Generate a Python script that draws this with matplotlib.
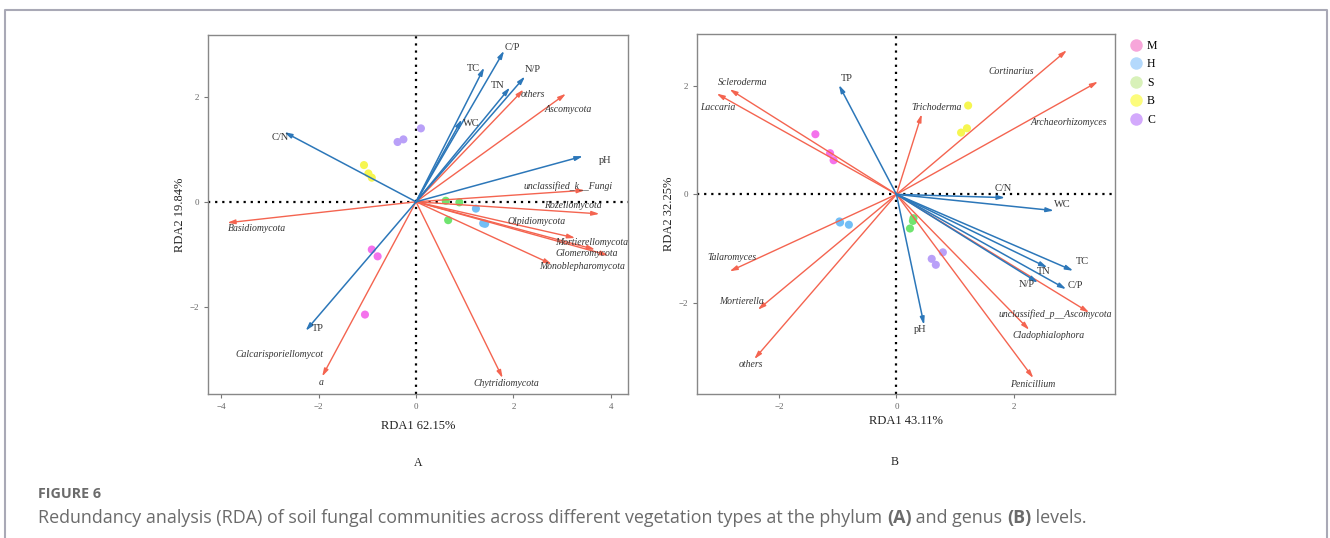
import numpy as np
import matplotlib.pyplot as plt
from matplotlib.lines import Line2D

plt.rcParams['font.family'] = ['Liberation Serif', 'DejaVu Serif']

# ---- panel A (phylum) ----
env_a = ['C/P', 'TC', 'N/P', 'TN', 'WC', 'C/N', 'pH', 'TP']
env_a_x = [1.81, 1.40, 2.24, 1.93, 0.94, -2.71, 3.43, -2.27]
env_a_y = [2.88, 2.56, 2.39, 2.18, 1.57, 1.33, 0.87, -2.46]
env_a_lx = [1.97, 1.17, 2.40, 1.68, 1.14, -2.80, 3.88, -2.01]
env_a_ly = [2.94, 2.55, 2.52, 2.21, 1.50, 1.22, 0.78, -2.41]

sp_a = ['others', 'Ascomycota', 'unclassified_k__Fungi', 'Rozellomycota', 'Olpidiomycota',
        'Mortierellomycota', 'Glomeromycota', 'Monoblepharomycota', 'Basidiomycota',
        'Calcarisporiellomycot', 'Chytridiomycota']
sp_a_x = [2.21, 3.08, 3.47, 3.77, 3.27, 3.68, 3.95, 2.79, -3.88, -1.93, 1.78]
sp_a_y = [2.14, 2.06, 0.22, -0.23, -0.69, -0.91, -1.02, -1.19, -0.40, -3.33, -3.36]
sp_a_lx = [2.41, 3.13, 3.13, 3.23, 2.48, 3.61, 3.51, 3.41, -3.27, -2.80, 1.86]
sp_a_ly = [2.05, 1.76, 0.30, -0.08, -0.37, -0.77, -0.98, -1.24, -0.50, -2.92, -3.46]
extra_a = ('a', -1.96, -3.45)

pts_a = {
    'M': ([-0.91, -0.79, -1.05], [-0.91, -1.04, -2.15]),
    'H': ([1.23, 1.38, 1.42], [-0.13, -0.41, -0.42]),
    'S': ([0.61, 0.89, 0.66], [0.02, -0.01, -0.35]),
    'B': ([-1.07, -0.98, -0.91], [0.70, 0.54, 0.46]),
    'C': ([-0.38, -0.26, 0.10], [1.14, 1.19, 1.40]),
}

# ---- panel B (genus) ----
env_b = ['TP', 'C/N', 'WC', 'TC', 'TN', 'C/P', 'N/P', 'pH']
env_b_x = [-0.98, 1.85, 2.68, 3.01, 2.57, 2.89, 2.41, 0.47]
env_b_y = [2.02, -0.06, -0.30, -1.41, -1.35, -1.75, -1.63, -2.41]
env_b_lx = [-0.84, 1.81, 2.83, 3.17, 2.50, 3.04, 2.21, 0.40]
env_b_ly = [2.13, 0.11, -0.18, -1.23, -1.43, -1.69, -1.66, -2.49]

sp_b = ['Cortinarius', 'Archaeorhizomyces', 'Trichoderma', 'Scleroderma', 'Laccaria',
        'Talaromyces', 'Mortierella', 'others', 'unclassified_p__Ascomycota',
        'Cladophialophora', 'Penicillium']
sp_b_x = [2.90, 3.43, 0.43, -2.84, -3.06, -2.84, -2.36, -2.42, 3.28, 2.26, 2.33]
sp_b_y = [2.66, 2.08, 1.48, 1.94, 1.86, -1.42, -2.13, -3.04, -2.18, -2.50, -3.39]
sp_b_lx = [1.96, 2.94, 0.68, -2.61, -3.04, -2.80, -2.63, -2.47, 2.70, 2.59, 2.32]
sp_b_ly = [2.26, 1.32, 1.61, 2.06, 1.61, -1.16, -1.97, -3.14, -2.21, -2.61, -3.51]

pts_b = {
    'M': ([-1.38, -1.13, -1.07], [1.11, 0.76, 0.63]),
    'H': ([-0.96, -0.81, -0.97], [-0.52, -0.56, -0.50]),
    'S': ([0.29, 0.28, 0.23], [-0.44, -0.49, -0.63]),
    'B': ([1.22, 1.20, 1.10], [1.64, 1.22, 1.14]),
    'C': ([0.79, 0.60, 0.67], [-1.07, -1.19, -1.30]),
}

groups = ['M', 'H', 'S', 'B', 'C']
pt_colors = {'M': '#F472EC', 'H': '#72BEF6', 'S': '#6FE46F', 'B': '#F6F650', 'C': '#B9A0F8'}
leg_colors = {'M': '#F7A6DA', 'H': '#B4D9FC', 'S': '#D8F1B9', 'B': '#FCFC7C', 'C': '#D3A9FC'}

RED = '#F46450'
BLUE = '#2C77B9'
TXT = '#333333'

W, H = 1330, 538
fig = plt.figure(figsize=(W / 100, H / 100), dpi=100)


def draw_panel(rect, xlim, ylim, xticks, env, ex, ey, elx, ely, sp, sx, sy, slx, sly, pts,
               xlab, ylab, extra=None):
    ax = fig.add_axes(rect)
    ax.set_xlim(*xlim)
    ax.set_ylim(*ylim)
    ax.axhline(0, color='black', ls=(0, (1, 2.2)), lw=1.6, zorder=1)
    ax.axvline(0, color='black', ls=(0, (1, 2.2)), lw=1.6, zorder=1)
    for g in groups:
        ax.scatter(pts[g][0], pts[g][1], s=34, color=pt_colors[g], edgecolors='none', zorder=2)
    for i in range(len(sp)):
        ax.annotate('', xy=(sx[i], sy[i]), xytext=(0, 0),
                    arrowprops=dict(arrowstyle='-|>,head_length=0.45,head_width=0.13',
                                    color=RED, lw=1, shrinkA=0, shrinkB=0), zorder=3)
        ax.text(slx[i], sly[i], sp[i], style='italic', fontsize=7, color=TXT,
                ha='center', va='center', zorder=5)
    for i in range(len(env)):
        ax.annotate('', xy=(ex[i], ey[i]), xytext=(0, 0),
                    arrowprops=dict(arrowstyle='-|>,head_length=0.45,head_width=0.13',
                                    color=BLUE, lw=1.1, shrinkA=0, shrinkB=0), zorder=4)
        ax.text(elx[i], ely[i], env[i], fontsize=7.5, color=TXT,
                ha='center', va='center', zorder=5)
    if extra:
        ax.text(extra[1], extra[2], extra[0], style='italic', fontsize=7, color=TXT,
                ha='center', va='center')
    ax.set_xticks(xticks)
    ax.set_yticks([-2, 0, 2])
    ax.set_xticklabels(['\u2212%d' % -t if t < 0 else str(t) for t in xticks])
    ax.set_yticklabels(['\u22122', '0', '2'])
    ax.tick_params(colors='#777777', labelcolor='#666666', labelsize=6.5, length=3, width=0.8)
    for s in ax.spines.values():
        s.set_color('#888888')
        s.set_linewidth(1)
    ax.set_xlabel(xlab, fontsize=9, color='#222222', labelpad=6)
    ax.set_ylabel(ylab, fontsize=9, color='#222222', labelpad=3)
    return ax


axA = draw_panel([208.3 / W, 1 - 394.3 / H, 419.4 / W, 359.3 / H], (-4.27, 4.35), (-3.67, 3.18),
                 [-4, -2, 0, 2, 4], env_a, env_a_x, env_a_y, env_a_lx, env_a_ly,
                 sp_a, sp_a_x, sp_a_y, sp_a_lx, sp_a_ly, pts_a,
                 'RDA1 62.15%', 'RDA2 19.84%', extra_a)
axB = draw_panel([697.3 / W, 1 - 394.3 / H, 417.7 / W, 360.3 / H], (-3.39, 3.72), (-3.69, 2.96),
                 [-2, 0, 2], env_b, env_b_x, env_b_y, env_b_lx, env_b_ly,
                 sp_b, sp_b_x, sp_b_y, sp_b_lx, sp_b_ly, pts_b,
                 'RDA1 43.11%', 'RDA2 32.25%')
axB.xaxis.labelpad = 3

fig.text(418 / W, 1 - 463 / H, 'A', fontsize=8.5, color='#222222', ha='center', va='center')
fig.text(895 / W, 1 - 462 / H, 'B', fontsize=8.5, color='#222222', ha='center', va='center')

# legend
handles = [Line2D([], [], ls='none', marker='o', markersize=9, markerfacecolor=leg_colors[g],
                  markeredgecolor='none') for g in groups]
fig.legend(handles, groups, loc='upper left', bbox_to_anchor=(1124 / W, 1 - 35 / H),
           frameon=False, fontsize=8.5, handletextpad=0.35, labelspacing=0.55,
           handlelength=1.2, borderaxespad=0)

# card border
fig.add_artist(Line2D([5 / W, 5 / W, 1327 / W, 1327 / W], [0, 1 - 10 / H, 1 - 10 / H, 0],
                      color='#a9a9b6', lw=1.5, transform=fig.transFigure))

# caption
cap = dict(family=['Open Sans', 'DejaVu Sans'], color='#6b6b6b')
fig.text(38 / W, 1 - 494 / H, 'FIGURE 6', fontsize=10.3, weight='bold', va='center', **cap)
parts = [('Redundancy analysis (RDA) of soil fungal communities across different vegetation types at the phylum ', 'normal'),
         ('(A)', 'bold'), (' and genus ', 'normal'), ('(B)', 'bold'), (' levels.', 'normal')]
prev = fig.text(38 / W, 1 - 518 / H, parts[0][0], fontsize=12.9, va='center', **cap)
for txt, wt in parts[1:]:
    prev = fig.add_artist(plt.Annotation(txt, xy=(1, 0), xycoords=prev, xytext=(0, 0),
                                         textcoords='offset points', fontsize=12.9, weight=wt,
                                         va='bottom', annotation_clip=False, **cap))

fig.savefig('out.png', dpi=100)
